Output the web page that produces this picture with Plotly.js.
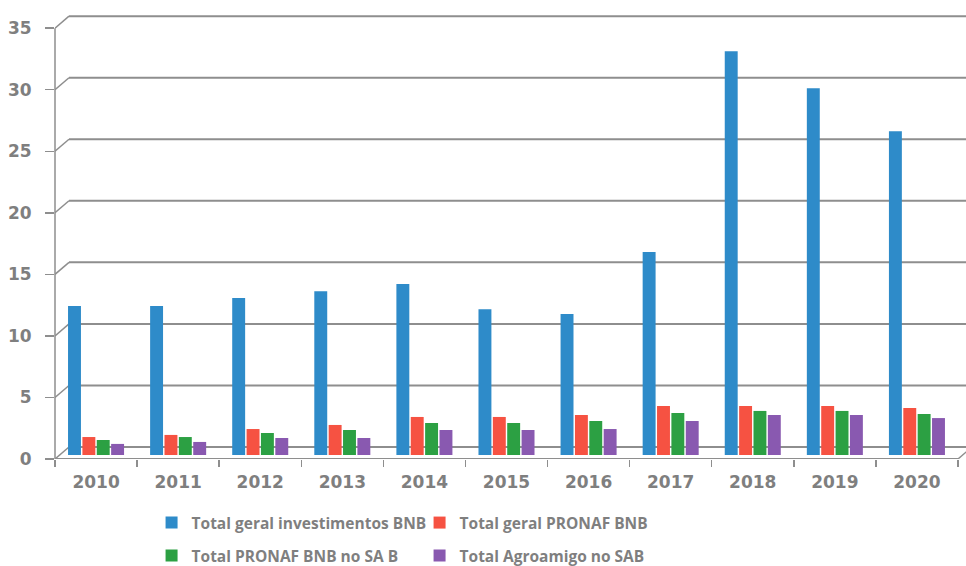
<!DOCTYPE html>
<html>
<head>
<meta charset="utf-8">
<script src="https://cdn.plot.ly/plotly-3.0.1.min.js"></script>
<style>html,body{margin:0;padding:0;background:#fff;}#chart{width:966px;height:566px;}</style>
</head>
<body>
<div id="chart"></div>
<script>
// ---- data ----
const years = ['2010','2011','2012','2013','2014','2015','2016','2017','2018','2019','2020'];
const seriesNames = ['Total geral investimentos BNB','Total geral PRONAF BNB','Total PRONAF BNB no SA B','Total Agroamigo no SAB'];
const totalInvestimentos = [12.1, 12.1, 12.75, 13.3, 13.9, 11.85, 11.45, 16.5, 32.8, 29.8, 26.3];
const totalPronaf = [1.46, 1.63, 2.11, 2.44, 3.09, 3.09, 3.25, 3.98, 3.98, 3.98, 3.82];
const pronafSab = [1.22, 1.46, 1.79, 2.03, 2.6, 2.6, 2.76, 3.41, 3.58, 3.58, 3.33];
const agroamigoSab = [0.9, 1.06, 1.38, 1.38, 2.03, 2.03, 2.11, 2.76, 3.25, 3.25, 3.0];
const yTicks = [0, 5, 10, 15, 20, 25, 30, 35];

// ---- styling / geometry ----
const colors = ['#2E8BC9', '#F65242', '#2CA043', '#8959B0'];
const txt = '#7F7F7F';
const lineC = '#8E8E8E';
const W = 966, H = 566;
const mL = 55, mR = 0, mT = 0, mB = 107;
const plotW = W - mL - mR, plotH = H - mT - mB;
const catPx = 82.09;          // px per category on the front axis
const unitPx = 12.31;         // px per value unit
const depthX = 14, depthY = 12; // 3D depth offset of back wall
const barLift = 4;            // bars sit 4px above the front floor line
const xLo = -0.5, xHi = -0.5 + plotW / catPx;
const dX = depthX / catPx, dY = depthY / unitPx;

const allSeries = [totalInvestimentos, totalPronaf, pronafSab, agroamigoSab];
const traces = allSeries.map((vals, i) => ({
  type: 'bar', x: years, y: vals, name: seriesNames[i],
  marker: {color: colors[i], line: {width: 0}},
  yaxis: 'y', xaxis: 'x', hoverinfo: 'x+y',
  legend: i < 2 ? 'legend' : 'legend2'
}));

const shapes = [];
// back wall grid lines with diagonal connectors
yTicks.forEach(v => {
  shapes.push({type: 'line', xref: 'x', yref: 'y2', x0: xLo, y0: v, x1: xLo + dX, y1: v + dY,
    line: {color: lineC, width: 1.5}, layer: 'below'});
  shapes.push({type: 'line', xref: 'x', yref: 'y2', x0: xLo + dX, y0: v + dY, x1: xHi + 1, y1: v + dY,
    line: {color: lineC, width: 2}, layer: 'below'});
});
// right floor edge
shapes.push({type: 'line', xref: 'x', yref: 'y2', x0: 10.5, y0: 0, x1: 10.5 + dX, y1: dY,
  line: {color: lineC, width: 1.5}, layer: 'below'});
// front vertical axis line
shapes.push({type: 'line', xref: 'paper', yref: 'y2', x0: 0, y0: 0, x1: 0, y1: yTicks[yTicks.length - 1],
  line: {color: lineC, width: 1.5}, layer: 'above'});
// front floor line
shapes.push({type: 'line', xref: 'x', yref: 'y2', x0: -0.5, y0: 0, x1: 10.5, y1: 0,
  line: {color: lineC, width: 2}, layer: 'above'});

const tickFont = {family: 'DejaVu Sans', size: 17, color: txt, weight: 'bold'};
const legFont = {family: 'Open Sans', size: 15.5, color: txt, weight: 'bold'};

const layout = {
  width: W, height: H,
  margin: {l: mL, r: mR, t: mT, b: mB, pad: 0, autoexpand: false},
  paper_bgcolor: '#fff', plot_bgcolor: 'rgba(0,0,0,0)',
  barmode: 'group', bargap: 0.3, bargroupgap: 0.1,
  showlegend: true,
  xaxis: {type: 'category', range: [xLo, xHi], fixedrange: true, automargin: false,
    showgrid: false, zeroline: false, showline: false,
    ticks: 'outside', tickson: 'boundaries', ticklen: 7, tickwidth: 1.5, tickcolor: lineC,
    tickfont: tickFont, ticklabelstandoff: 11},
  yaxis: {range: [-barLift / unitPx, (plotH - barLift) / unitPx], visible: false, fixedrange: true},
  yaxis2: {overlaying: 'y', side: 'left', range: [0, plotH / unitPx], fixedrange: true, automargin: false,
    tickvals: yTicks, ticks: 'outside', ticklen: 9, tickwidth: 1.5, tickcolor: lineC,
    showgrid: false, zeroline: false, showline: false, tickfont: tickFont, ticklabelstandoff: 10},
  legend: {orientation: 'h', x: 0.106, xanchor: 'left', yref: 'container', y: 1 - 523 / H, yanchor: 'middle',
    font: legFont, entrywidth: 223, entrywidthmode: 'pixels', itemclick: false, bgcolor: 'rgba(0,0,0,0)'},
  legend2: {orientation: 'h', x: 0.106, xanchor: 'left', yref: 'container', y: 1 - 556 / H, yanchor: 'middle',
    font: legFont, entrywidth: 223, entrywidthmode: 'pixels', itemclick: false, bgcolor: 'rgba(0,0,0,0)'},
  shapes: shapes
};

Plotly.newPlot('chart', traces, layout, {displayModeBar: false, staticPlot: true});
</script>
</body>
</html>
